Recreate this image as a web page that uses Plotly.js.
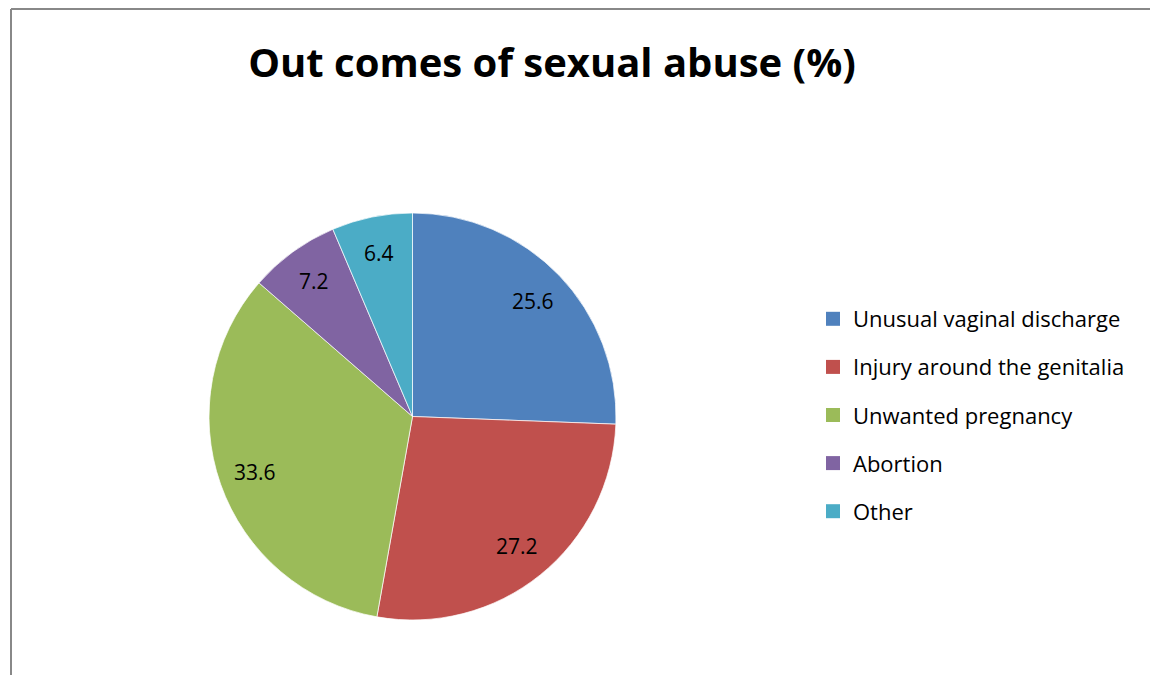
<!DOCTYPE html>
<html>
<head>
<meta charset="utf-8">
<script src="https://cdn.plot.ly/plotly-3.0.1.min.js"></script>
<style>
html,body{margin:0;padding:0;background:#fff;}
#chart{width:1150px;height:675px;}
</style>
</head>
<body>
<div id="chart"></div>
<script>
const categories = ["Unusual vaginal discharge", "Injury around the genitalia", "Unwanted pregnancy", "Abortion", "Other"];
const values = [25.6, 27.2, 33.6, 7.2, 6.4];
const colors = ["#4F81BD", "#C0504D", "#9BBB59", "#8064A2", "#4BACC6"];
const titleText = "Out comes of sexual abuse (%)";

const W = 1150, H = 675;
const px = v => v / W, py = v => 1 - v / H;

// pie geometry (pixels)
const pieLeft = 209, pieRight = 616, pieTop = 213, pieBottom = 620;
const cx = (pieLeft + pieRight) / 2, cy = (pieTop + pieBottom) / 2, R = (pieRight - pieLeft) / 2;
const labelRadius = 0.82;

const pie = {
  type: "pie",
  labels: categories,
  values: values,
  sort: false,
  direction: "clockwise",
  rotation: 0,
  marker: {colors: colors, line: {color: "rgba(255,255,255,0.7)", width: 1}},
  textinfo: "none",
  hoverinfo: "label+value",
  showlegend: false,
  domain: {x: [px(pieLeft), px(pieRight)], y: [py(pieBottom), py(pieTop)]}
};

// data labels placed at each slice's mid-angle (computed from the values)
const total = values.reduce((a, b) => a + b, 0);
let cum = 0;
const annotations = values.map(v => {
  const mid = (cum + v / 2) / total * 2 * Math.PI;
  cum += v;
  return {
    xref: "paper", yref: "paper",
    x: px(cx + labelRadius * R * Math.sin(mid)),
    y: py(cy - labelRadius * R * Math.cos(mid)),
    text: String(v),
    showarrow: false,
    xanchor: "center", yanchor: "middle",
    font: {family: "Open Sans", size: 21, color: "#000"}
  };
});

const legendTraces = categories.map((c, i) => ({
  type: "scatter",
  mode: "markers",
  x: [null], y: [null],
  name: c,
  legendgroup: "g" + i,
  marker: {symbol: "square", size: 14, color: colors[i]},
  hoverinfo: "skip"
}));

const layout = {
  width: W, height: H,
  margin: {l: 0, r: 0, t: 0, b: 0},
  paper_bgcolor: "#fff",
  plot_bgcolor: "#fff",
  showlegend: true,
  title: {
    text: "<b>" + titleText + "</b>",
    font: {family: "Open Sans", size: 40, color: "#000"},
    x: px(552), xanchor: "center",
    y: py(63), yanchor: "middle"
  },
  xaxis: {visible: false, domain: [0.9, 0.91]},
  yaxis: {visible: false, domain: [0.9, 0.91]},
  legend: {
    x: px(813), xanchor: "left",
    y: py(298), yanchor: "top",
    traceorder: "grouped",
    tracegroupgap: 16.5,
    font: {family: "Open Sans", size: 22, color: "#000"},
    itemclick: false, itemdoubleclick: false,
    bgcolor: "rgba(0,0,0,0)"
  },
  annotations: annotations,
  shapes: [
    {type: "line", xref: "paper", yref: "paper", x0: px(11), x1: px(11), y0: py(9), y1: py(700), line: {color: "#888", width: 2}},
    {type: "line", xref: "paper", yref: "paper", x0: px(11), x1: px(1200), y0: py(9), y1: py(9), line: {color: "#888", width: 2}}
  ]
};

Plotly.newPlot("chart", [pie].concat(legendTraces), layout, {displayModeBar: false});
</script>
</body>
</html>
